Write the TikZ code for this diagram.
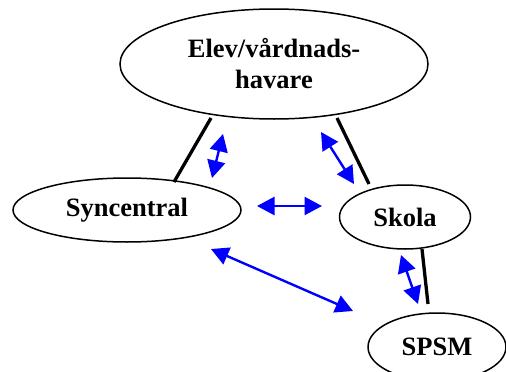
\documentclass[tikz,border=0pt]{standalone}
\usepackage{fontspec}
\setmainfont{Liberation Serif}
\usetikzlibrary{shapes.geometric,arrows.meta}
\begin{document}
\begin{tikzpicture}[x=1pt,y=-1pt,
  ell/.style={draw=black,line width=1.5pt,ellipse,inner sep=0pt,align=center,
    font=\fontsize{26.5}{31}\selectfont\bfseries},
  link/.style={draw=black,line width=3.3pt},
  barrow/.style={draw=blue,line width=2.4pt,{Triangle[length=17.5pt,width=18pt]}-{Triangle[length=17.5pt,width=18pt]},fill=blue}]
\useasboundingbox (0,0) rectangle (506,372);
\node[ell,minimum width=308pt,minimum height=110pt] (elev) at (274,64) {Elev/vårdnads-\\havare};
\node[ell,minimum width=228pt,minimum height=64pt] (sync) at (127,210) {Syncentral};
\node[ell,minimum width=131pt,minimum height=64pt] (skola) at (405,217) {Skola};
\node[ell,minimum width=138pt,minimum height=68pt] (spsm) at (437,347) {SPSM};
% black links
\coordinate (l1a) at (211,118); \coordinate (l1b) at (174,182);
\coordinate (l2a) at (337,118); \coordinate (l2b) at (369,184);
\coordinate (l3a) at (422,249); \coordinate (l3b) at (428,304);
\draw[link] (l1a) -- (l1b);
\draw[link] (l2a) -- (l2b);
\draw[link] (l3a) -- (l3b);
% blue arrows
\coordinate (a1a) at (223,134); \coordinate (a1b) at (212,178);
\coordinate (a2a) at (321,132); \coordinate (a2b) at (354,184);
\coordinate (a3a) at (257,206); \coordinate (a3b) at (322,206);
\coordinate (a4a) at (211,249); \coordinate (a4b) at (353,311);
\coordinate (a5a) at (401,255); \coordinate (a5b) at (418,304);
\draw[barrow] (a1a) -- (a1b);
\draw[barrow] (a2a) -- (a2b);
\draw[barrow] (a3a) -- (a3b);
\draw[barrow] (a4a) -- (a4b);
\draw[barrow] (a5a) -- (a5b);
\end{tikzpicture}
\end{document}
